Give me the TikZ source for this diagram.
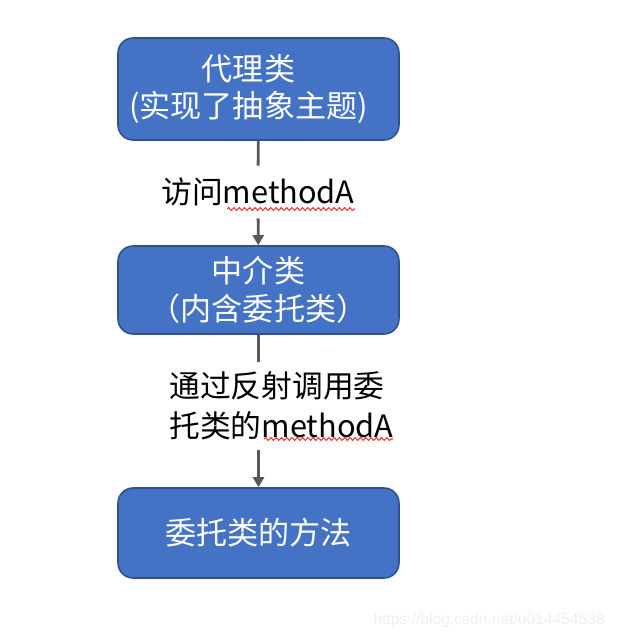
\documentclass[tikz,border=0pt]{standalone}
\usepackage{fontspec}
\setmainfont{Noto Sans CJK SC}
\newfontfamily\markfont{Liberation Sans}
\usetikzlibrary{positioning,arrows.meta,decorations.pathmorphing}
\definecolor{boxblue}{HTML}{4472C4}
\definecolor{boxedge}{HTML}{2F528F}
\definecolor{linkgray}{HTML}{595959}
\definecolor{squiggle}{HTML}{E8382E}
\definecolor{markgray}{HTML}{EFEFEF}

\begin{document}
\begin{tikzpicture}[x=0.02cm, y=-0.02cm,
  block/.style={draw=boxedge, line width=0.9pt, fill=boxblue, rounded corners=0.3cm, minimum width=5.62cm, text=white, align=center, font=\fontsize{17.7}{21.5}\selectfont},
  note/.style={inner sep=0pt, font=\fontsize{17.5}{22.5}\selectfont, align=left},
  link/.style={draw=linkgray, line width=1.6pt},
  spell/.style={draw=squiggle, line width=0.6pt, decorate, decoration={snake, amplitude=0.8pt, segment length=3pt}}]

  \useasboundingbox (0,0) rectangle (619,638);

  % Boxes
  \node[block, minimum height=2.04cm] (proxy) at (258.5,89) {代理类\hspace*{0.4cm}\\(实现了抽象主题)\hspace*{0.4cm}};
  \node[block, minimum height=1.76cm] (broker) at (258.5,290) {中介类\\（内含委托类）};
  \node[block, minimum height=1.8cm] (target) at (258.5,533) {委托类的方法};

  % Labels
  \node[note, minimum height=1.04cm] (visit) at (258,192) {访问methodA};
  \node[note, minimum height=1.76cm, anchor=west] (reflect) at (169,406) {通过反射调用委\\托类的methodA};

  % Arrows
  \draw[link] (proxy) -- (visit);
  \draw[link, -{Triangle[length=0.2cm, width=0.22cm]}] (visit) -- (broker);
  \draw[link] (broker) -- (broker |- reflect.north);
  \draw[link, -{Triangle[length=0.2cm, width=0.22cm]}] (broker |- reflect.south) -- (target);

  % spell check marks
  \draw[spell] (227,209) -- (355,209);
  \draw[spell] (264,439) -- (393,439);

  % Watermark
  \node[font=\markfont\fontsize{8.9}{10}\selectfont, text=markgray, anchor=east] (mark) at (611,620) {https://blog.csdn.net/u014454538};

\end{tikzpicture}
\end{document}
